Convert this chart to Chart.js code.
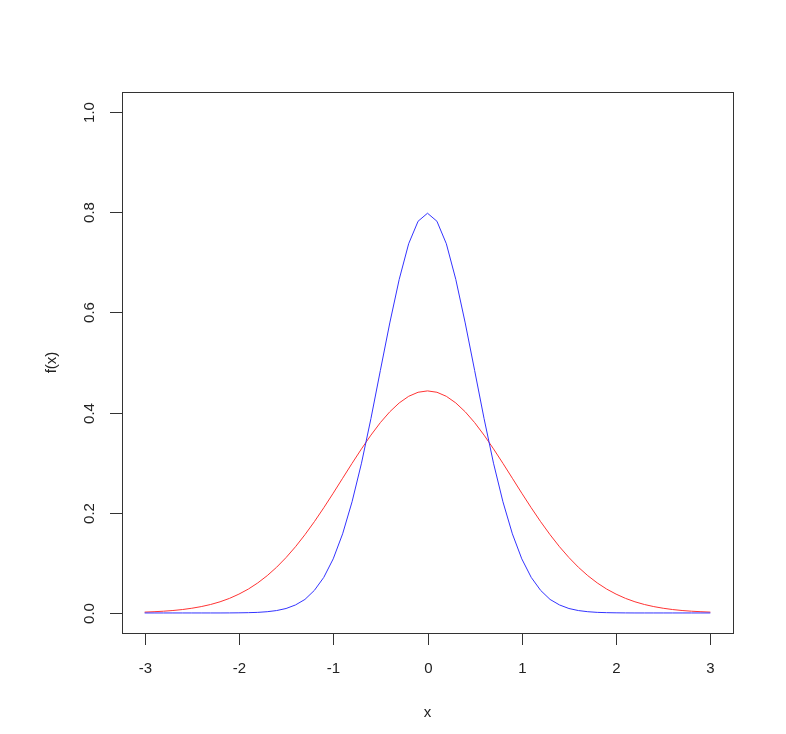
<!DOCTYPE html>
<html><head><script src="https://cdn.jsdelivr.net/npm/chart.js"></script>
<style>body{margin:0;background:#fff}</style></head>
<body><canvas id="c" width="786" height="734"></canvas>
<script>
const xs = [];
for (let i = -30; i <= 30; i++) xs.push(i / 10);
const blueHalf = [0.798,0.782,0.737,0.666,0.579,0.484,0.388,0.299,0.222,0.158,0.108,0.071,0.045,0.027,0.016,0.0089,0.0048,0.0025,0.0012,0.0006,0.0003,0.0001,0,0,0,0,0,0,0,0,0];
const redHalf = [0.4433,0.4406,0.4325,0.4193,0.4016,0.380,0.355,0.3276,0.2987,0.2689,0.2391,0.210,0.1822,0.1562,0.1322,0.1106,0.0913,0.0745,0.060,0.0477,0.0376,0.0291,0.0223,0.0169,0.0127,0.0094,0.0068,0.0049,0.0035,0.0025,0.0017];
const xTicks = [-3,-2,-1,0,1,2,3];
const yTicks = [0.0,0.2,0.4,0.6,0.8,1.0];
const full = h => h.slice(1).reverse().concat(h);
const blue = full(blueHalf).map((y,i)=>({x:xs[i],y}));
const red = full(redHalf).map((y,i)=>({x:xs[i],y}));
const font = '15px "Liberation Sans", Arial, sans-serif';
const axes = {id:'axes', afterDraw(ch){
  const c=ch.ctx, a=ch.chartArea, sx=ch.scales.x, sy=ch.scales.y;
  c.save(); c.strokeStyle='#333'; c.lineWidth=1; c.fillStyle='#222'; c.font=font;
  c.strokeRect(a.left+0.5,a.top+0.5,a.right-a.left,a.bottom-a.top);
  c.beginPath();
  c.moveTo(sx.getPixelForValue(-3),a.bottom+0.5); c.lineTo(sx.getPixelForValue(3),a.bottom+0.5);
  c.textAlign='center'; c.textBaseline='middle';
  xTicks.forEach(v=>{const p=Math.round(sx.getPixelForValue(v))+0.5; c.moveTo(p,a.bottom); c.lineTo(p,a.bottom+12); c.fillText(String(v),p,a.bottom+36);});
  c.moveTo(a.left+0.5,sy.getPixelForValue(0)); c.lineTo(a.left+0.5,sy.getPixelForValue(1));
  yTicks.forEach(v=>{const p=Math.round(sy.getPixelForValue(v))+0.5; c.moveTo(a.left,p); c.lineTo(a.left-12,p);
    c.save(); c.translate(a.left-32,p); c.rotate(-Math.PI/2); c.fillText(v.toFixed(1),0,0); c.restore();});
  c.stroke();
  c.fillText('x',(a.left+a.right)/2,a.bottom+80);
  c.save(); c.translate(a.left-70,(a.top+a.bottom)/2); c.rotate(-Math.PI/2); c.fillText('f(x)',0,0); c.restore();
  c.restore();
}};
new Chart(document.getElementById('c'),{type:'line',
 data:{datasets:[
  {data:blue,borderColor:'#3333ff',borderWidth:1,pointRadius:0,tension:0},
  {data:red,borderColor:'#ff3333',borderWidth:1,pointRadius:0,tension:0}]},
 options:{responsive:false,animation:false,layout:{padding:{left:122,right:53,top:92,bottom:101}},
  plugins:{legend:{display:false},tooltip:{enabled:false}},
  scales:{x:{type:'linear',min:-3.24,max:3.24,display:false},y:{min:-0.04,max:1.04,display:false}}},
 plugins:[axes]});
</script></body></html>
